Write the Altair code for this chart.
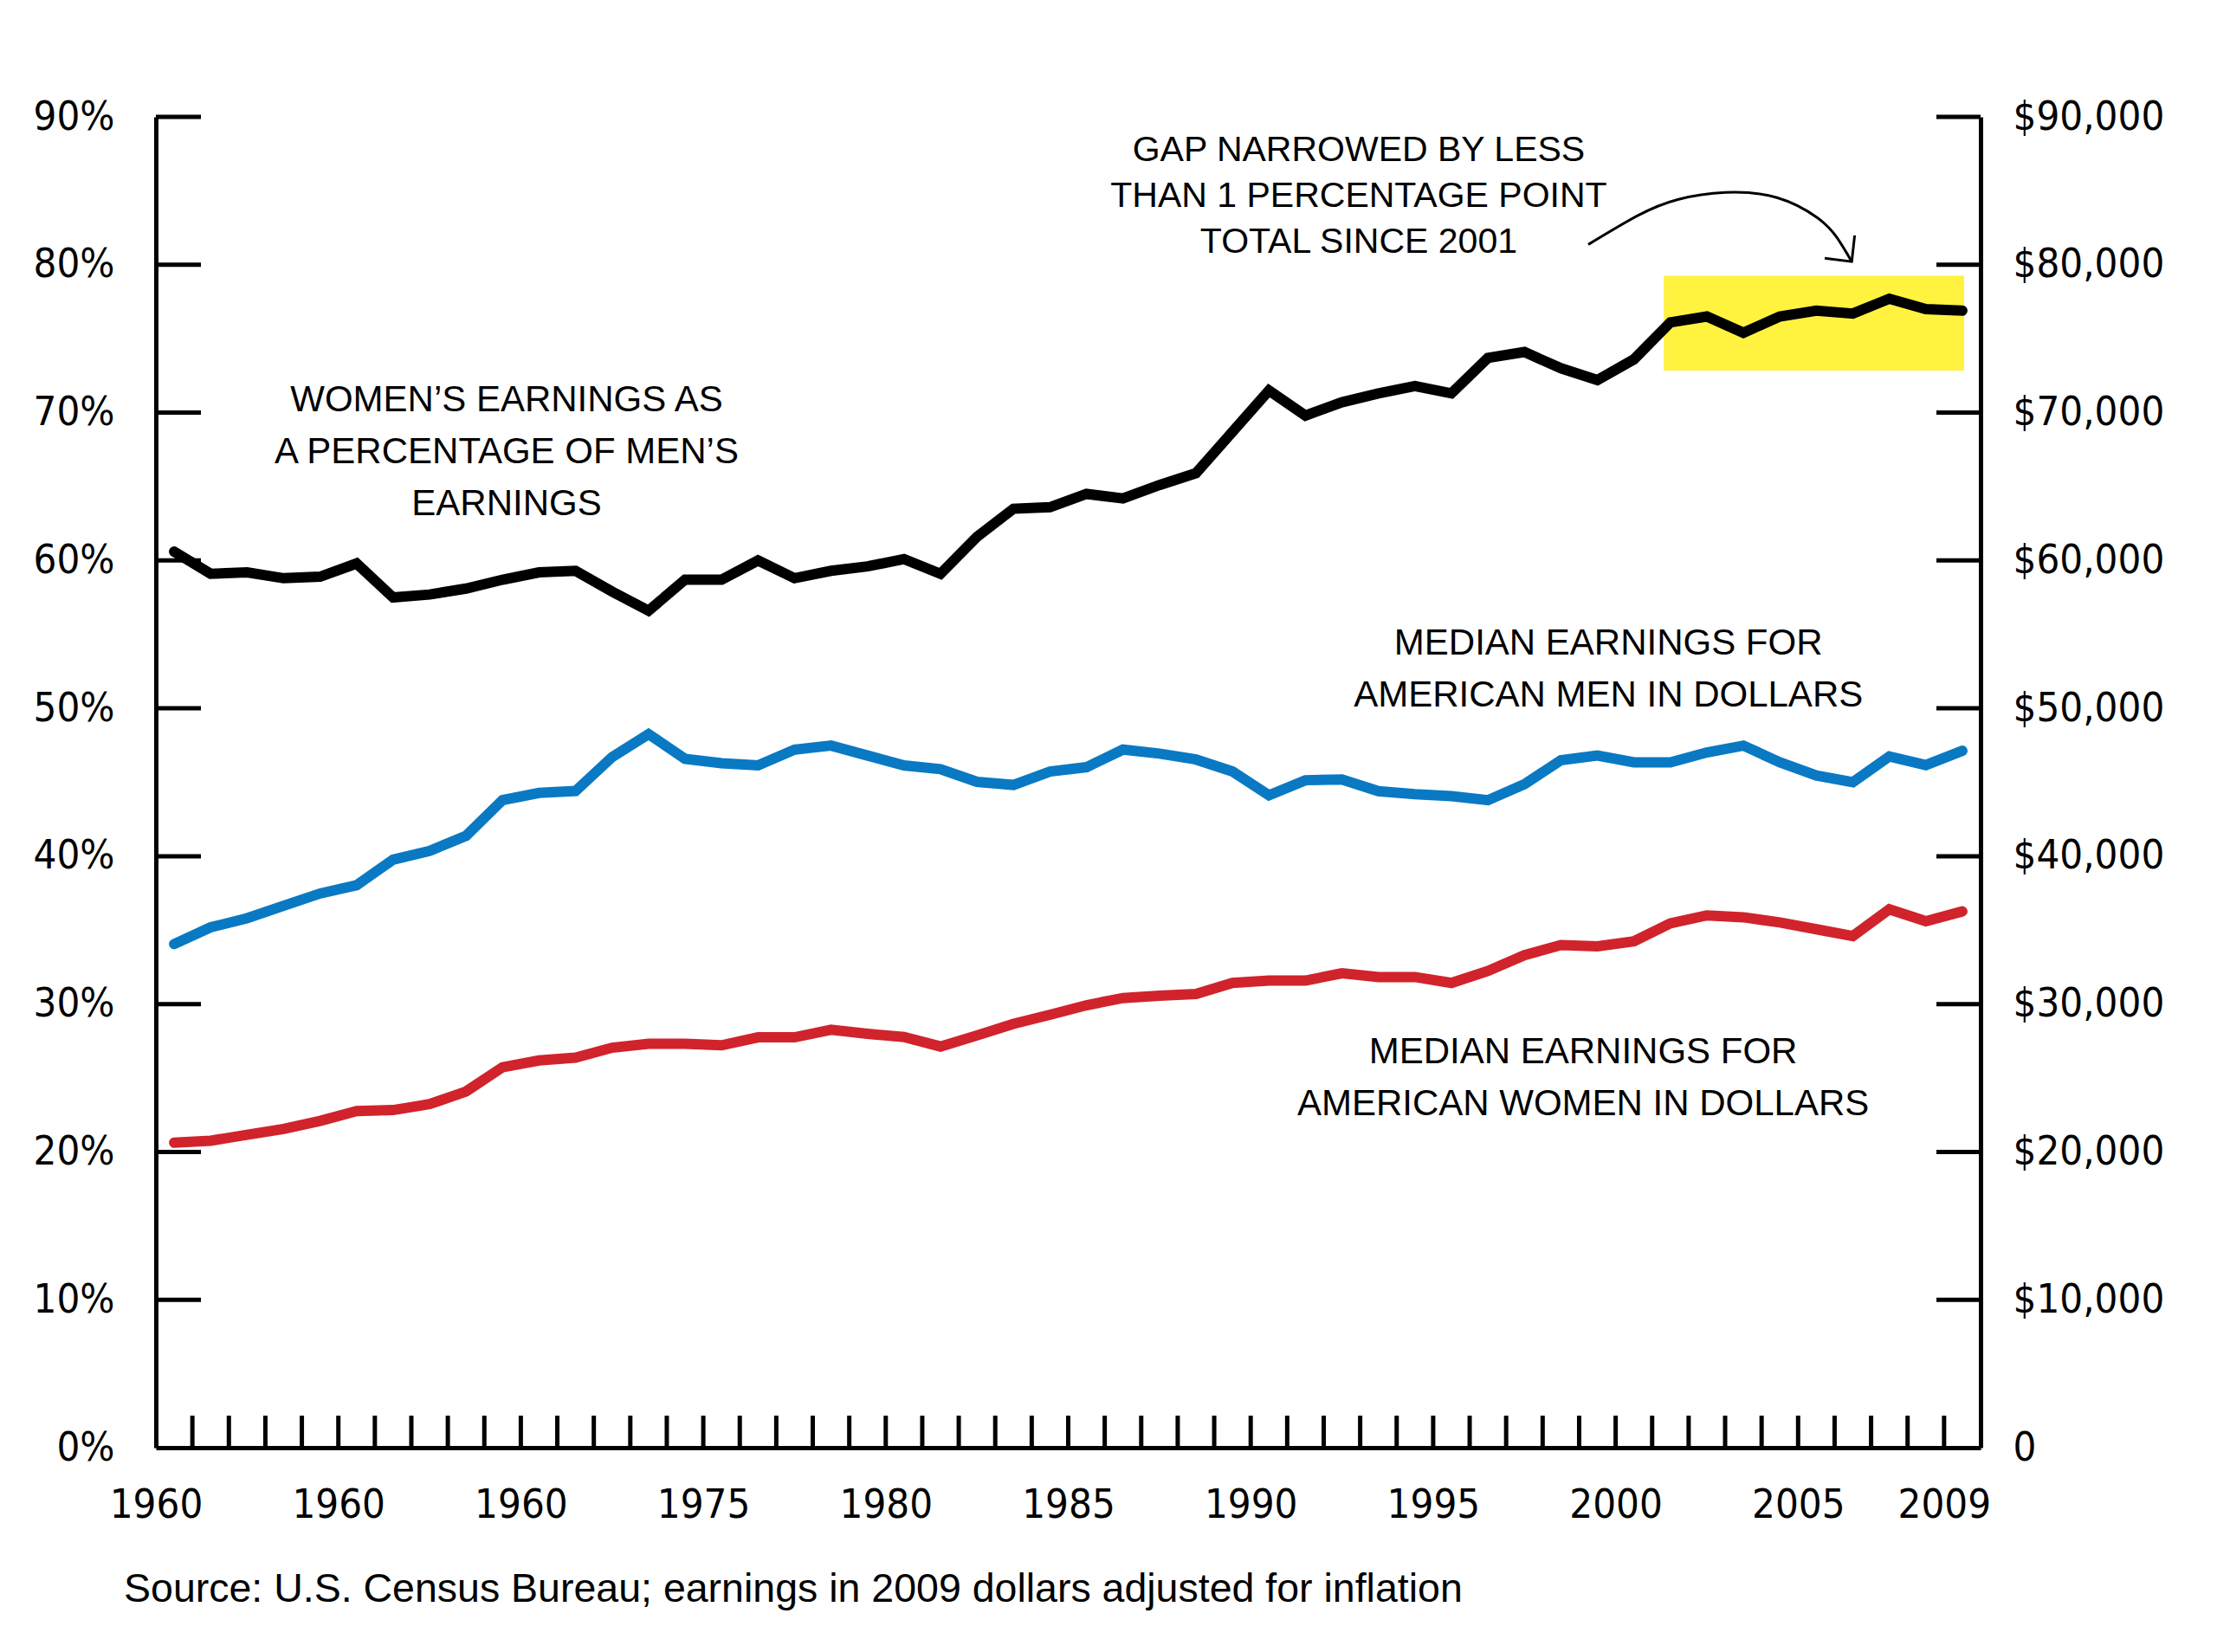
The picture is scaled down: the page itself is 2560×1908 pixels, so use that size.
import altair as alt
import pandas as pd

# ---------------- data ----------------
years = list(range(1960, 2010))
ratio_pct = [60.6, 59.1, 59.2, 58.8, 58.9, 59.8, 57.5, 57.7, 58.1, 58.7,
             59.2, 59.3, 57.9, 56.6, 58.7, 58.7, 60.0, 58.8, 59.3, 59.6,
             60.1, 59.1, 61.6, 63.5, 63.6, 64.5, 64.2, 65.1, 65.9, 68.7,
             71.5, 69.8, 70.7, 71.3, 71.8, 71.3, 73.7, 74.1, 73.0, 72.2,
             73.6, 76.1, 76.5, 75.4, 76.5, 76.9, 76.7, 77.7, 77.0, 76.9]
men_usd = [34060, 35190, 35810, 36650, 37480, 38040, 39770, 40360, 41380, 43800,
           44280, 44410, 46700, 48260, 46590, 46290, 46140, 47210, 47480, 46810,
           46140, 45890, 45030, 44820, 45730, 46020, 47210, 46940, 46540, 45730,
           44120, 45140, 45190, 44400, 44200, 44060, 43790, 44870, 46490, 46810,
           46350, 46350, 47020, 47480, 46350, 45460, 45000, 46750, 46160, 47130]
women_usd = [20630, 20760, 21160, 21560, 22100, 22770, 22830, 23230, 24090, 25730,
             26190, 26380, 27050, 27320, 27320, 27210, 27750, 27750, 28260, 27990,
             27770, 27130, 27880, 28660, 29280, 29920, 30410, 30570, 30680, 31430,
             31590, 31590, 32080, 31830, 31830, 31430, 32240, 33310, 33990, 33900,
             34250, 35460, 36000, 35870, 35520, 35060, 34600, 36410, 35600, 36270]

x_label_values = [1960, 1965, 1970, 1975, 1980, 1985, 1990, 1995, 2000, 2005, 2009]
x_label_texts = ["1960", "1960", "1960", "1975", "1980", "1985", "1990", "1995", "2000", "2005", "2009"]
x_tick_years = list(range(1961, 2010))
pct_ticks = list(range(10, 91, 10))
usd_ticks = list(range(10000, 90001, 10000))

# highlight box (year range, percent range)
box_x = [2001.32]
box_x2 = [2009.55]
box_y = [72.85]
box_y2 = [79.25]

# curved arrow path and its head (year, percent)
arrow_x = [1999.25, 2000.61, 2001.70, 2003.01, 2004.42, 2005.52, 2006.06, 2006.47]
arrow_y = [81.37, 83.33, 84.41, 84.89, 84.54, 83.19, 81.85, 80.21]
head_x = [2006.55, 2006.47, 2005.73]
head_y = [81.99, 80.21, 80.44]

ann_text = ["WOMEN\u2019S EARNINGS AS\nA PERCENTAGE OF MEN\u2019S\nEARNINGS",
            "MEDIAN EARNINGS FOR\nAMERICAN MEN IN DOLLARS",
            "MEDIAN EARNINGS FOR\nAMERICAN WOMEN IN DOLLARS"]
ann_x = [1969.61, 1999.80, 1999.11]
ann_y = [70.08, 53.63, 25.97]

gap_text = ["GAP NARROWED BY LESS\nTHAN 1 PERCENTAGE POINT\nTOTAL SINCE 2001"]
gap_x = [1992.96]
gap_y = [87.01]

source_text = "Source: U.S. Census Bureau; earnings in 2009 dollars adjusted for inflation"

# ---------------- style ----------------
W, H = 2107, 1537
COND = "DejaVu Sans Condensed, Liberation Sans Narrow, sans-serif"
SANS = "Liberation Sans, Arial, Helvetica, sans-serif"
BLUE = "#0a79c3"
RED = "#d1232b"
YELLOW = "#fff33f"
LABEL_SIZE = 47

x_scale = alt.Scale(domain=[1960, 2010], nice=False, zero=False)
pct_scale = alt.Scale(domain=[0, 90], nice=False, zero=True)
usd_scale = alt.Scale(domain=[0, 90000], nice=False, zero=True)

label_arr = "[" + ",".join("'%s'" % t for t in x_label_texts) + "]"
value_arr = "[" + ",".join(str(v) for v in x_label_values) + "]"

x_axis = alt.Axis(values=x_label_values,
                  labelExpr=f"{label_arr}[indexof({value_arr}, datum.value)]",
                  ticks=False, grid=False, domainColor="black", domainWidth=5,
                  labelFont=COND, labelFontSize=LABEL_SIZE, labelColor="black",
                  labelPadding=43, labelFlush=False, labelOverlap=False,
                  labelLimit=400, title=None)
left_axis = alt.Axis(orient="left", values=list(range(0, 91, 10)),
                     labelExpr="datum.value + '%'",
                     ticks=False, grid=False, domainColor="black", domainWidth=5,
                     labelFont=COND, labelFontSize=LABEL_SIZE, labelColor="black",
                     labelPadding=48, labelOverlap=False, labelLimit=400, title=None)
right_axis = alt.Axis(orient="right", values=list(range(0, 90001, 10000)),
                      labelExpr="datum.value == 0 ? '0' : '$' + format(datum.value, ',')",
                      ticks=False, grid=False, domainColor="black", domainWidth=5,
                      labelFont=COND, labelFontSize=LABEL_SIZE, labelColor="black",
                      labelPadding=37, labelOverlap=False, labelLimit=400, title=None)

df = pd.DataFrame({"year": years, "ratio": ratio_pct, "men": men_usd, "women": women_usd})

box = alt.Chart(pd.DataFrame({"x": box_x, "x2": box_x2, "y": box_y, "y2": box_y2})).mark_rect(
    color=YELLOW).encode(
    x=alt.X("x:Q", scale=x_scale, axis=x_axis), x2="x2:Q",
    y=alt.Y("y:Q", scale=pct_scale, axis=None), y2="y2:Q")

ratio_line = alt.Chart(df).transform_calculate(xm="datum.year + 0.5").mark_line(
    color="black", strokeWidth=12, strokeCap="round").encode(
    x=alt.X("xm:Q", scale=x_scale, axis=x_axis),
    y=alt.Y("ratio:Q", scale=pct_scale, axis=left_axis))

earn_lines = alt.Chart(df).transform_fold(["men", "women"], as_=["series", "usd"]).transform_calculate(
    xm="datum.year + 0.5").mark_line(strokeWidth=12, strokeCap="round").encode(
    x=alt.X("xm:Q", scale=x_scale, axis=x_axis),
    y=alt.Y("usd:Q", scale=usd_scale, axis=right_axis),
    color=alt.Color("series:N", scale=alt.Scale(domain=["men", "women"], range=[BLUE, RED]), legend=None))

left_ticks = alt.Chart(pd.DataFrame({"v": pct_ticks})).mark_rule(color="black", strokeWidth=5).encode(
    y=alt.Y("v:Q", scale=pct_scale, axis=None), x=alt.value(0), x2=alt.value(52))

right_ticks = alt.Chart(pd.DataFrame({"v": usd_ticks})).mark_rule(color="black", strokeWidth=5).encode(
    y=alt.Y("v:Q", scale=usd_scale, axis=None), x=alt.value(W - 51), x2=alt.value(W))

x_ticks = alt.Chart(pd.DataFrame({"t": x_tick_years})).mark_rule(color="black", strokeWidth=5).encode(
    x=alt.X("t:Q", scale=x_scale, axis=x_axis), y=alt.value(H), y2=alt.value(H - 37))

arrow = alt.Chart(pd.DataFrame({"x": arrow_x, "y": arrow_y, "i": list(range(len(arrow_x)))})).mark_line(
    color="black", strokeWidth=3, interpolate="natural").encode(
    x=alt.X("x:Q", scale=x_scale, axis=x_axis),
    y=alt.Y("y:Q", scale=pct_scale, axis=None), order="i:Q")

head = alt.Chart(pd.DataFrame({"x": head_x, "y": head_y, "i": list(range(len(head_x)))})).mark_line(
    color="black", strokeWidth=3).encode(
    x=alt.X("x:Q", scale=x_scale, axis=x_axis),
    y=alt.Y("y:Q", scale=pct_scale, axis=None), order="i:Q")

ann = alt.Chart(pd.DataFrame({"x": ann_x, "y": ann_y, "t": ann_text})).mark_text(
    font=SANS, fontSize=42, color="black", align="center", baseline="alphabetic",
    lineBreak="\n", lineHeight=60).encode(
    x=alt.X("x:Q", scale=x_scale, axis=x_axis),
    y=alt.Y("y:Q", scale=pct_scale, axis=None), text="t:N")

gap = alt.Chart(pd.DataFrame({"x": gap_x, "y": gap_y, "t": gap_text})).mark_text(
    font=SANS, fontSize=41, color="black", align="center", baseline="alphabetic",
    lineBreak="\n", lineHeight=53).encode(
    x=alt.X("x:Q", scale=x_scale, axis=x_axis),
    y=alt.Y("y:Q", scale=pct_scale, axis=None), text="t:N")

source = alt.Chart(pd.DataFrame({"t": [source_text]})).mark_text(
    font=SANS, fontSize=46.5, color="black", align="left", baseline="alphabetic").encode(
    x=alt.value(-37), y=alt.value(H + 178), text="t:N")

chart = alt.layer(box, ratio_line, earn_lines, left_ticks, right_ticks, x_ticks,
                  arrow, head, ann, gap, source).resolve_scale(y="independent").properties(
    width=W, height=H,
    autosize=alt.AutoSizeParams(type="none"),
    padding={"left": 180, "top": 135, "right": 273, "bottom": 236},
    background="white",
).configure_view(stroke=None)

chart.save("out.html", embed_options={"renderer": "svg", "actions": False})
